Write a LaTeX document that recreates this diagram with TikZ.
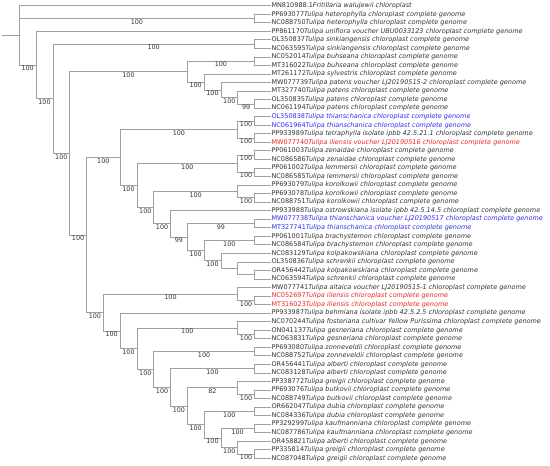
\documentclass[tikz,border=0pt]{standalone}
\usepackage{fontspec}
\setmainfont{DejaVu Sans}
\definecolor{linegray}{RGB}{160,160,160}
\definecolor{txtgray}{RGB}{51,51,51}
\definecolor{tblue}{RGB}{45,45,235}
\definecolor{tred}{RGB}{240,35,35}
\tikzset{
  branch/.style={draw=linegray, line width=0.8pt},
  leafnode/.style={anchor=west, inner sep=0.8pt, font=\fontsize{6.5}{6.5}\selectfont, text=txtgray},
  bluel/.style={text=tblue},
  redl/.style={text=tred},
  supp/.style={pos=0.75, below, inner sep=0.6pt, font=\fontsize{6.4}{6.4}\selectfont, text=txtgray}
}
\newcommand{\lf}[2]{#1\textit{#2}}
\begin{document}
\begin{tikzpicture}[x=1pt,y=-1pt]
\useasboundingbox (0,0) rectangle (550,466);
% leaves
\def\lx{270.5}
\node[leafnode] (l1) at (\lx,5.70) {\lf{MN810988.1}{Fritillaria walujewii chloroplast}};
\node[leafnode] (l2) at (\lx,14.24) {\lf{PP693077}{Tulipa heterophylla chloroplast complete genome}};
\node[leafnode] (l3) at (\lx,22.78) {\lf{NC088750}{Tulipa heterophylla chloroplast complete genome}};
\node[leafnode] (l4) at (\lx,31.32) {\lf{PP861170}{Tulipa uniflora voucher UBU0033123 chloroplast complete genome}};
\node[leafnode] (l5) at (\lx,39.86) {\lf{OL350837}{Tulipa sinkiangensis chloroplast complete genome}};
\node[leafnode] (l6) at (\lx,48.40) {\lf{NC063595}{Tulipa sinkiangensis chloroplast complete genome}};
\node[leafnode] (l7) at (\lx,56.94) {\lf{NC052014}{Tulipa buhseana chloroplast complete genome}};
\node[leafnode] (l8) at (\lx,65.48) {\lf{MT316022}{Tulipa buhseana chloroplast complete genome}};
\node[leafnode] (l9) at (\lx,74.02) {\lf{MT261172}{Tulipa sylvestris chloroplast complete genome}};
\node[leafnode] (l10) at (\lx,82.56) {\lf{MW077739}{Tulipa patens voucher LJ20190515-2 chloroplast complete genome}};
\node[leafnode] (l11) at (\lx,91.10) {\lf{MT327740}{Tulipa patens chloroplast complete genome}};
\node[leafnode] (l12) at (\lx,99.64) {\lf{OL350835}{Tulipa patens chloroplast complete genome}};
\node[leafnode] (l13) at (\lx,108.18) {\lf{NC061194}{Tulipa patens chloroplast complete genome}};
\node[leafnode,bluel] (l14) at (\lx,116.72) {\lf{OL350838}{Tulipa thianschanica chloroplast complete genome}};
\node[leafnode,bluel] (l15) at (\lx,125.26) {\lf{NC061964}{Tulipa thianschanica chloroplast complete genome}};
\node[leafnode] (l16) at (\lx,133.80) {\lf{PP933989}{Tulipa tetraphylla isolate ipbb 42.5.21.1 chloroplast complete genome}};
\node[leafnode,redl] (l17) at (\lx,142.34) {\lf{MW077740}{Tulipa iliensis voucher LJ20190516 chloroplast complete genome}};
\node[leafnode] (l18) at (\lx,150.88) {\lf{PP061003}{Tulipa zenaidae chloroplast complete genome}};
\node[leafnode] (l19) at (\lx,159.42) {\lf{NC086586}{Tulipa zenaidae chloroplast complete genome}};
\node[leafnode] (l20) at (\lx,167.96) {\lf{PP061002}{Tulipa lemmersii chloroplast complete genome}};
\node[leafnode] (l21) at (\lx,176.50) {\lf{NC086585}{Tulipa lemmersii chloroplast complete genome}};
\node[leafnode] (l22) at (\lx,185.04) {\lf{PP693079}{Tulipa korolkowii chloroplast complete genome}};
\node[leafnode] (l23) at (\lx,193.58) {\lf{PP693078}{Tulipa korolkowii chloroplast complete genome}};
\node[leafnode] (l24) at (\lx,202.12) {\lf{NC088751}{Tulipa korolkowii chloroplast complete genome}};
\node[leafnode] (l25) at (\lx,210.66) {\lf{PP933988}{Tulipa ostrowskiana isolate ipbb 42.5.14.5 chloroplast complete genome}};
\node[leafnode,bluel] (l26) at (\lx,219.20) {\lf{MW077738}{Tulipa thianschanica voucher LJ20190517 chloroplast complete genome}};
\node[leafnode,bluel] (l27) at (\lx,227.74) {\lf{MT327741}{Tulipa thianschanica chloroplast complete genome}};
\node[leafnode] (l28) at (\lx,236.28) {\lf{PP061001}{Tulipa brachystemon chloroplast complete genome}};
\node[leafnode] (l29) at (\lx,244.82) {\lf{NC086584}{Tulipa brachystemon chloroplast complete genome}};
\node[leafnode] (l30) at (\lx,253.36) {\lf{NC083129}{Tulipa kolpakowskiana chloroplast complete genome}};
\node[leafnode] (l31) at (\lx,261.90) {\lf{OL350836}{Tulipa schrenkii chloroplast complete genome}};
\node[leafnode] (l32) at (\lx,270.44) {\lf{OR456442}{Tulipa kolpakowskiana chloroplast complete genome}};
\node[leafnode] (l33) at (\lx,278.98) {\lf{NC063594}{Tulipa schrenkii chloroplast complete genome}};
\node[leafnode] (l34) at (\lx,287.52) {\lf{MW077741}{Tulipa altaica voucher LJ20190515-1 chloroplast complete genome}};
\node[leafnode,redl] (l35) at (\lx,296.06) {\lf{NC052697}{Tulipa iliensis chloroplast complete genome}};
\node[leafnode,redl] (l36) at (\lx,304.60) {\lf{MT316023}{Tulipa iliensis chloroplast complete genome}};
\node[leafnode] (l37) at (\lx,313.14) {\lf{PP933987}{Tulipa behmiana isolate ipbb 42.5.2.5 chloroplast complete genome}};
\node[leafnode] (l38) at (\lx,321.68) {\lf{NC070244}{Tulipa fosteriana cultivar Yellow Purissima chloroplast complete genome}};
\node[leafnode] (l39) at (\lx,330.22) {\lf{ON041137}{Tulipa gesneriana chloroplast complete genome}};
\node[leafnode] (l40) at (\lx,338.76) {\lf{NC063831}{Tulipa gesneriana chloroplast complete genome}};
\node[leafnode] (l41) at (\lx,347.30) {\lf{PP693080}{Tulipa zonneveldii chloroplast complete genome}};
\node[leafnode] (l42) at (\lx,355.84) {\lf{NC088752}{Tulipa zonneveldii chloroplast complete genome}};
\node[leafnode] (l43) at (\lx,364.38) {\lf{OR456441}{Tulipa alberti chloroplast complete genome}};
\node[leafnode] (l44) at (\lx,372.92) {\lf{NC083128}{Tulipa alberti chloroplast complete genome}};
\node[leafnode] (l45) at (\lx,381.46) {\lf{PP338772}{Tulipa greigii chloroplast complete genome}};
\node[leafnode] (l46) at (\lx,390.00) {\lf{PP693076}{Tulipa butkovii chloroplast complete genome}};
\node[leafnode] (l47) at (\lx,398.54) {\lf{NC088749}{Tulipa butkovii chloroplast complete genome}};
\node[leafnode] (l48) at (\lx,407.08) {\lf{OR662047}{Tulipa dubia chloroplast complete genome}};
\node[leafnode] (l49) at (\lx,415.62) {\lf{NC084336}{Tulipa dubia chloroplast complete genome}};
\node[leafnode] (l50) at (\lx,424.16) {\lf{PP329299}{Tulipa kaufmanniana chloroplast complete genome}};
\node[leafnode] (l51) at (\lx,432.70) {\lf{NC087786}{Tulipa kaufmanniana chloroplast complete genome}};
\node[leafnode] (l52) at (\lx,441.24) {\lf{OR458821}{Tulipa alberti chloroplast complete genome}};
\node[leafnode] (l53) at (\lx,449.78) {\lf{PP335814}{Tulipa greigii chloroplast complete genome}};
\node[leafnode] (l54) at (\lx,458.32) {\lf{NC087048}{Tulipa greigii chloroplast complete genome}};
% internal nodes
\coordinate (stub) at (2,35.37);
\coordinate (rt) at (19.3,35.37);
\coordinate (A) at (254.5,18.51);
\coordinate (B) at (36.1,65.03);
\coordinate (C) at (52.9,98.73);
\coordinate (D) at (254.5,44.13);
\coordinate (E) at (69.7,153.33);
\coordinate (F) at (187.3,71.62);
\coordinate (H) at (254.5,61.21);
\coordinate (I) at (204.1,82.03);
\coordinate (J) at (220.9,90.03);
\coordinate (K) at (237.7,97.505);
\coordinate (L) at (254.5,103.91);
\coordinate (G) at (86.5,235.03);
\coordinate (M) at (120.1,157.60);
\coordinate (O) at (237.7,129.53);
\coordinate (Q) at (254.5,120.99);
\coordinate (R) at (254.5,138.07);
\coordinate (P) at (136.9,185.675);
\coordinate (S) at (237.7,163.69);
\coordinate (U) at (254.5,155.15);
\coordinate (V) at (254.5,172.23);
\coordinate (T) at (153.7,207.66);
\coordinate (W) at (237.7,191.445);
\coordinate (Y) at (254.5,197.85);
\coordinate (X) at (170.5,223.87);
\coordinate (Z) at (187.3,237.08);
\coordinate (AA) at (254.5,223.47);
\coordinate (AB) at (204.1,250.69);
\coordinate (AC) at (254.5,240.55);
\coordinate (AD) at (220.9,260.83);
\coordinate (AE) at (237.7,268.305);
\coordinate (AF) at (254.5,274.71);
\coordinate (N) at (103.3,312.45);
\coordinate (AG) at (237.7,293.925);
\coordinate (AI) at (254.5,300.33);
\coordinate (AH) at (120.1,330.97);
\coordinate (AJ) at (136.9,348.80);
\coordinate (AK) at (237.7,328.085);
\coordinate (AM) at (254.5,334.49);
\coordinate (AL) at (153.7,369.52);
\coordinate (AN) at (254.5,351.57);
\coordinate (AO) at (170.5,387.465);
\coordinate (AP) at (254.5,368.65);
\coordinate (AQ) at (187.3,406.28);
\coordinate (AR) at (237.7,387.865);
\coordinate (AT) at (254.5,394.27);
\coordinate (AS) at (204.1,424.695);
\coordinate (AU) at (254.5,411.35);
\coordinate (AV) at (220.9,438.04);
\coordinate (AW) at (254.5,428.43);
\coordinate (AX) at (237.7,447.645);
\coordinate (AY) at (254.5,454.05);
% branches
\draw[branch] (stub) -- (rt);
\draw[branch] (rt) |- (l1.west);
\draw[branch] (rt) |- (A) node[supp] (s1) {100};
\draw[branch] (rt) |- (B) node[supp] (s2) {100};
\draw[branch] (A) |- (l2.west);
\draw[branch] (A) |- (l3.west);
\draw[branch] (B) |- (l4.west);
\draw[branch] (B) |- (C) node[supp] (s3) {100};
\draw[branch] (C) |- (D) node[supp] (s4) {100};
\draw[branch] (C) |- (E) node[supp] (s5) {100};
\draw[branch] (D) |- (l5.west);
\draw[branch] (D) |- (l6.west);
\draw[branch] (E) |- (F) node[supp] (s6) {100};
\draw[branch] (E) |- (G) node[supp] (s7) {100};
\draw[branch] (F) |- (H) node[supp] (s8) {100};
\draw[branch] (F) |- (I) node[supp] (s9) {100};
\draw[branch] (H) |- (l7.west);
\draw[branch] (H) |- (l8.west);
\draw[branch] (I) |- (l9.west);
\draw[branch] (I) |- (J) node[supp] (s10) {100};
\draw[branch] (J) |- (l10.west);
\draw[branch] (J) |- (K) node[supp] (s11) {100};
\draw[branch] (K) |- (l11.west);
\draw[branch] (K) |- (L) node[supp] (s12) {99};
\draw[branch] (L) |- (l12.west);
\draw[branch] (L) |- (l13.west);
\draw[branch] (G) |- (M) node[supp] (s13) {100};
\draw[branch] (G) |- (N) node[supp] (s14) {100};
\draw[branch] (M) |- (O) node[supp] (s15) {100};
\draw[branch] (M) |- (P) node[supp] (s16) {100};
\draw[branch] (O) |- (Q) node[supp] (s17) {100};
\draw[branch] (O) |- (R) node[supp] (s18) {100};
\draw[branch] (Q) |- (l14.west);
\draw[branch] (Q) |- (l15.west);
\draw[branch] (R) |- (l16.west);
\draw[branch] (R) |- (l17.west);
\draw[branch] (P) |- (S) node[supp] (s19) {100};
\draw[branch] (P) |- (T) node[supp] (s20) {100};
\draw[branch] (S) |- (U) node[supp] (s21) {100};
\draw[branch] (S) |- (V) node[supp] (s22) {100};
\draw[branch] (U) |- (l18.west);
\draw[branch] (U) |- (l19.west);
\draw[branch] (V) |- (l20.west);
\draw[branch] (V) |- (l21.west);
\draw[branch] (T) |- (W) node[supp] (s23) {100};
\draw[branch] (T) |- (X) node[supp] (s24) {100};
\draw[branch] (W) |- (l22.west);
\draw[branch] (W) |- (Y) node[supp] (s25) {100};
\draw[branch] (Y) |- (l23.west);
\draw[branch] (Y) |- (l24.west);
\draw[branch] (X) |- (l25.west);
\draw[branch] (X) |- (Z) node[supp] (s26) {99};
\draw[branch] (Z) |- (AA) node[supp] (s27) {99};
\draw[branch] (Z) |- (AB) node[supp] (s28) {100};
\draw[branch] (AA) |- (l26.west);
\draw[branch] (AA) |- (l27.west);
\draw[branch] (AB) |- (AC) node[supp] (s29) {100};
\draw[branch] (AB) |- (AD) node[supp] (s30) {100};
\draw[branch] (AC) |- (l28.west);
\draw[branch] (AC) |- (l29.west);
\draw[branch] (AD) |- (l30.west);
\draw[branch] (AD) |- (AE);
\draw[branch] (AE) |- (l31.west);
\draw[branch] (AE) |- (AF);
\draw[branch] (AF) |- (l32.west);
\draw[branch] (AF) |- (l33.west);
\draw[branch] (N) |- (AG) node[supp] (s31) {100};
\draw[branch] (N) |- (AH) node[supp] (s32) {100};
\draw[branch] (AG) |- (l34.west);
\draw[branch] (AG) |- (AI) node[supp] (s33) {100};
\draw[branch] (AI) |- (l35.west);
\draw[branch] (AI) |- (l36.west);
\draw[branch] (AH) |- (l37.west);
\draw[branch] (AH) |- (AJ) node[supp] (s34) {100};
\draw[branch] (AJ) |- (AK) node[supp] (s35) {100};
\draw[branch] (AJ) |- (AL) node[supp] (s36) {100};
\draw[branch] (AK) |- (l38.west);
\draw[branch] (AK) |- (AM) node[supp] (s37) {100};
\draw[branch] (AM) |- (l39.west);
\draw[branch] (AM) |- (l40.west);
\draw[branch] (AL) |- (AN) node[supp] (s38) {100};
\draw[branch] (AL) |- (AO) node[supp] (s39) {100};
\draw[branch] (AN) |- (l41.west);
\draw[branch] (AN) |- (l42.west);
\draw[branch] (AO) |- (AP) node[supp] (s40) {100};
\draw[branch] (AO) |- (AQ) node[supp] (s41) {100};
\draw[branch] (AP) |- (l43.west);
\draw[branch] (AP) |- (l44.west);
\draw[branch] (AQ) |- (AR) node[supp] (s42) {82};
\draw[branch] (AQ) |- (AS) node[supp] (s43) {100};
\draw[branch] (AR) |- (l45.west);
\draw[branch] (AR) |- (AT) node[supp] (s44) {100};
\draw[branch] (AT) |- (l46.west);
\draw[branch] (AT) |- (l47.west);
\draw[branch] (AS) |- (AU) node[supp] (s45) {100};
\draw[branch] (AS) |- (AV) node[supp] (s46) {100};
\draw[branch] (AU) |- (l48.west);
\draw[branch] (AU) |- (l49.west);
\draw[branch] (AV) |- (AW) node[supp] (s47) {100};
\draw[branch] (AV) |- (AX) node[supp] (s48) {100};
\draw[branch] (AW) |- (l50.west);
\draw[branch] (AW) |- (l51.west);
\draw[branch] (AX) |- (l52.west);
\draw[branch] (AX) |- (AY) node[supp] (s49) {100};
\draw[branch] (AY) |- (l53.west);
\draw[branch] (AY) |- (l54.west);
\end{tikzpicture}
\end{document}
